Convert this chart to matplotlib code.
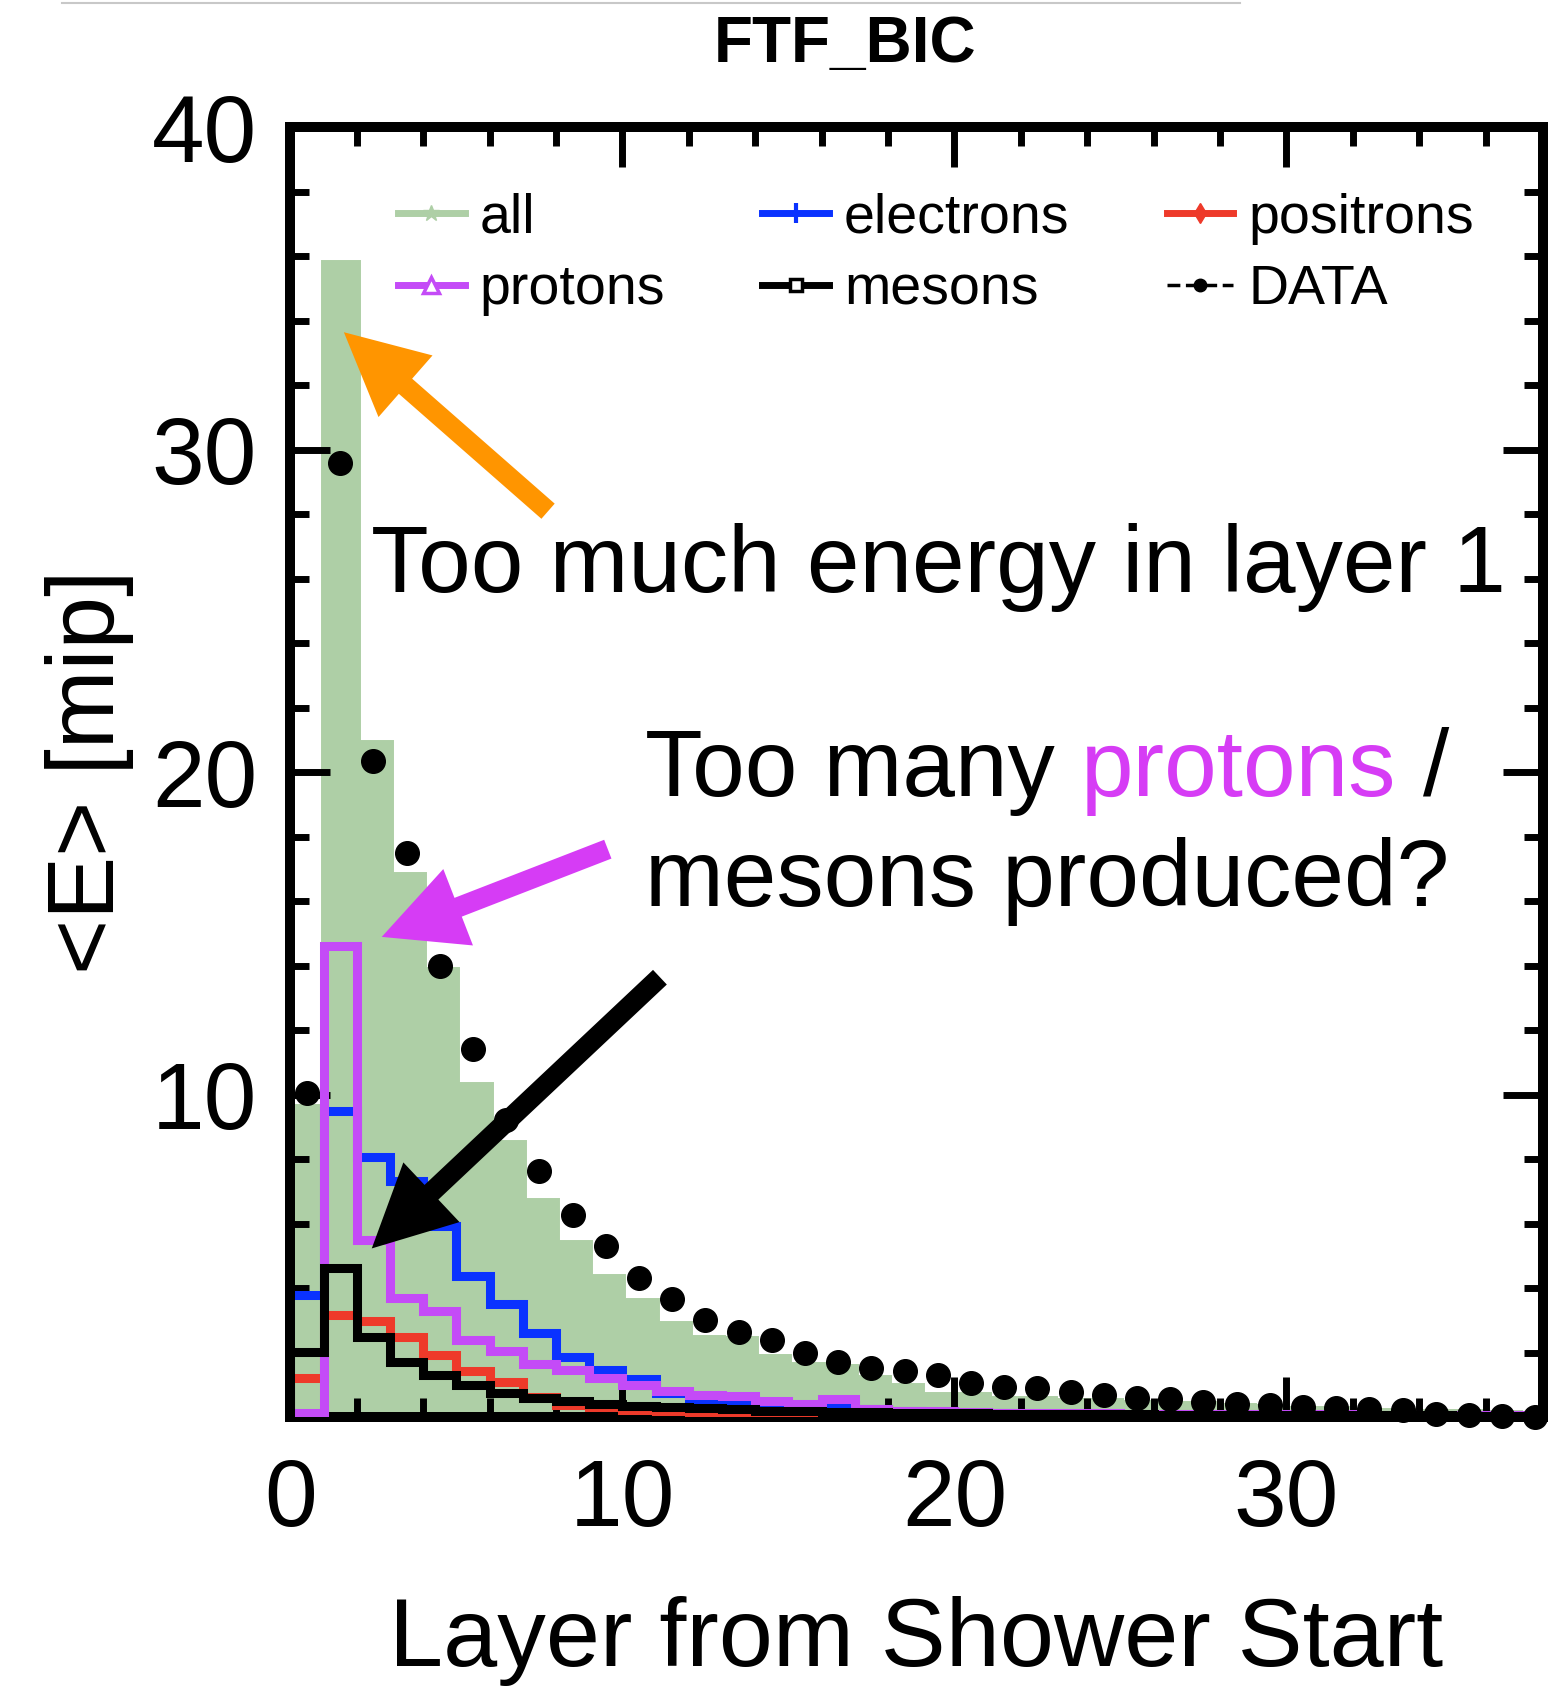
import numpy as np
import matplotlib
matplotlib.use("Agg")
import matplotlib.pyplot as plt
from matplotlib.lines import Line2D
from matplotlib.ticker import MultipleLocator, FuncFormatter

plt.rcParams['font.family'] = ['Liberation Sans', 'DejaVu Sans']

# mean energy per layer (mip), one bin per layer counted from the shower start
e_all = [9.6, 35.8, 20.9, 16.8, 13.85, 10.3, 8.5, 6.7, 5.4, 4.35,
         3.6, 2.9, 2.45, 2.42, 1.85, 1.6, 1.55, 1.2, 0.95, 0.7,
         0.7, 0.55, 0.55, 0.5, 0.5, 0.45, 0.4, 0.4, 0.35, 0.3,
         0.25, 0.25, 0.2, 0.2, 0.15, 0.15, 0.12, 0.1]
e_electrons = [3.8, 9.5, 8.05, 7.33, 5.93, 4.38, 3.5, 2.62, 1.85, 1.47,
               1.18, 0.75, 0.53, 0.5, 0.35, 0.3, 0.38, 0.25, 0.2, 0.15,
               0.14, 0.12, 0.1, 0.1, 0.08, 0.08, 0.07, 0.06, 0.06, 0.05,
               0.05, 0.04, 0.04, 0.03, 0.03, 0.03, 0.02, 0.02]
e_positrons = [1.2, 3.17, 2.97, 2.47, 1.93, 1.42, 1.08, 0.62, 0.38, 0.3,
               0.22, 0.18, 0.15, 0.1, 0.08, 0.07, 0.06, 0.05, 0.05, 0.04,
               0.04, 0.03, 0.03, 0.03, 0.02, 0.02, 0.02, 0.02, 0.01, 0.01,
               0.01, 0.01, 0.01, 0.01, 0.01, 0.01, 0.01, 0.01]
e_protons = [0.12, 14.6, 5.5, 3.7, 3.3, 2.4, 2.05, 1.65, 1.45, 1.2,
             1.0, 0.82, 0.68, 0.65, 0.5, 0.4, 0.55, 0.25, 0.2, 0.18,
             0.15, 0.14, 0.13, 0.12, 0.12, 0.11, 0.1, 0.1, 0.1, 0.09,
             0.09, 0.09, 0.08, 0.08, 0.08, 0.08, 0.07, 0.07]
e_mesons = [2.02, 4.62, 2.48, 1.72, 1.3, 1.0, 0.75, 0.6, 0.5, 0.42,
            0.35, 0.3, 0.27, 0.24, 0.2, 0.18, 0.16, 0.15, 0.14, 0.13,
            0.12, 0.11, 0.1, 0.1, 0.09, 0.09, 0.08, 0.08, 0.07, 0.07,
            0.06, 0.06, 0.05, 0.05, 0.05, 0.04, 0.04, 0.04]
e_data = [10.06, 29.6, 20.35, 17.5, 14.0, 11.4, 9.2, 7.64, 6.26, 5.32,
          4.3, 3.65, 3.0, 2.64, 2.38, 2.0, 1.72, 1.53, 1.43, 1.3,
          1.07, 0.92, 0.89, 0.78, 0.68, 0.58, 0.56, 0.47, 0.42, 0.37,
          0.32, 0.27, 0.26, 0.22, 0.11, 0.06, 0.02, 0.0]

edges = np.arange(len(e_all) + 1)
centers = edges[:-1] + 0.5

c_all = '#aecfa6'
c_el = '#0a32ff'
c_pos = '#ee3a2a'
c_prot = '#c44bf7'
c_mes = 'black'
c_pink = '#d63cf5'
c_orange = '#ff9500'

fig = plt.figure(figsize=(15.49, 16.86), dpi=100)
ax = fig.add_axes([0.1875, 0.1595, 0.8086, 0.7651])

lw = 6.5
ax.stairs(e_all, edges, fill=True, color=c_all, zorder=1)
ax.stairs(e_all, edges, color=c_all, lw=5, zorder=1)
ax.stairs(e_electrons, edges, color=c_el, lw=lw, zorder=2)
ax.stairs(e_positrons, edges, color=c_pos, lw=lw, zorder=3)
ax.stairs(e_protons, edges, color=c_prot, lw=lw, zorder=4)
ax.stairs(e_mesons, edges, color=c_mes, lw=lw, zorder=5)
ax.plot(centers, e_data, 'o', color='black', ms=17, zorder=6, clip_on=False)

ax.set_xlim(0, 37.73)
ax.set_ylim(0, 40)
ax.xaxis.set_major_locator(MultipleLocator(10))
ax.xaxis.set_minor_locator(MultipleLocator(2))
ax.yaxis.set_major_locator(MultipleLocator(10))
ax.yaxis.set_minor_locator(MultipleLocator(2))
# no "0" on the y axis, the x axis one is enough
ax.yaxis.set_major_formatter(FuncFormatter(lambda v, p: '' if v == 0 else f'{v:g}'))
ax.tick_params(which='both', direction='in', top=True, right=True, width=5)
ax.tick_params(which='major', length=29, labelsize=68)
ax.tick_params(which='minor', length=14)
ax.tick_params(axis='x', pad=29)
ax.tick_params(axis='y', pad=24)
for sp in ax.spines.values():
    sp.set_linewidth(7.2)

ax.set_xlabel('Layer from Shower Start', fontsize=70)
ax.xaxis.set_label_coords(0.4994, -0.139)
ax.set_ylabel('<E> [mip]', fontsize=68)
ax.yaxis.set_label_coords(-0.125, 0.5)
ax.text(0.4427, 1.0504, 'FTF_BIC', transform=ax.transAxes, ha='center',
        va='baseline', fontsize=46, fontweight='bold')

# legend
handles = [
    Line2D([], [], color=c_all, lw=5, marker='*', ms=12),
    Line2D([], [], color=c_prot, lw=5, marker='^', ms=11, mfc='white', mew=2.5),
    Line2D([], [], color=c_el, lw=5, marker='+', ms=14, mew=3),
    Line2D([], [], color=c_mes, lw=5, marker='s', ms=9, mfc='white', mew=2.5),
    Line2D([], [], color=c_pos, lw=5, marker='d', ms=10),
    Line2D([], [], color='black', lw=2.5, ls='--', marker='o', ms=9),
]
labels = ['all', 'protons', 'electrons', 'mesons', 'positrons', 'DATA']
ax.legend(handles, labels, ncol=3, loc='upper left', bbox_to_anchor=(0.0858, 0.949),
          frameon=False, fontsize=40, borderpad=0, borderaxespad=0,
          handlelength=1.2, handletextpad=0.27, labelspacing=0.35,
          columnspacing=1.75)

# annotations
arrow_kw = dict(shrinkA=0, shrinkB=0, mutation_scale=1, lw=0)
ax.annotate('', xy=(1.61, 33.64), xytext=(7.76, 28.09), annotation_clip=False,
            arrowprops=dict(arrowstyle='simple,head_length=59,head_width=59,tail_width=14.5',
                            color=c_orange, **arrow_kw), zorder=8)
ax.annotate('', xy=(2.75, 14.89), xytext=(9.56, 17.61), annotation_clip=False,
            arrowprops=dict(arrowstyle='simple,head_length=59,head_width=59,tail_width=14.5',
                            color=c_pink, **arrow_kw), zorder=8)
ax.annotate('', xy=(2.45, 5.23), xytext=(11.13, 13.64), annotation_clip=False,
            arrowprops=dict(arrowstyle='simple,head_length=59,head_width=59,tail_width=14.5',
                            color='black', **arrow_kw), zorder=8)

ax.text(2.42, 25.6, 'Too much energy in layer 1', fontsize=68, va='baseline', zorder=9)
t1 = ax.text(10.68, 19.27, 'Too many', fontsize=68, va='baseline', zorder=9)
t2 = ax.annotate('protons', xy=(1, 0), xycoords=t1, xytext=(19, 0),
                 textcoords='offset points', fontsize=68, color=c_pink, va='bottom', zorder=9)
ax.annotate('/', xy=(1, 0), xycoords=t2, xytext=(19, 0),
            textcoords='offset points', fontsize=68, va='bottom', zorder=9)
ax.text(10.68, 15.84, 'mesons produced?', fontsize=68, va='baseline', zorder=9)

fig.add_artist(Line2D([62 / 1549, 1240 / 1549], [1 - 3 / 1686] * 2,
                      transform=fig.transFigure, color='#c8c8c8', lw=1.5))

fig.savefig('out.png', dpi=100)
